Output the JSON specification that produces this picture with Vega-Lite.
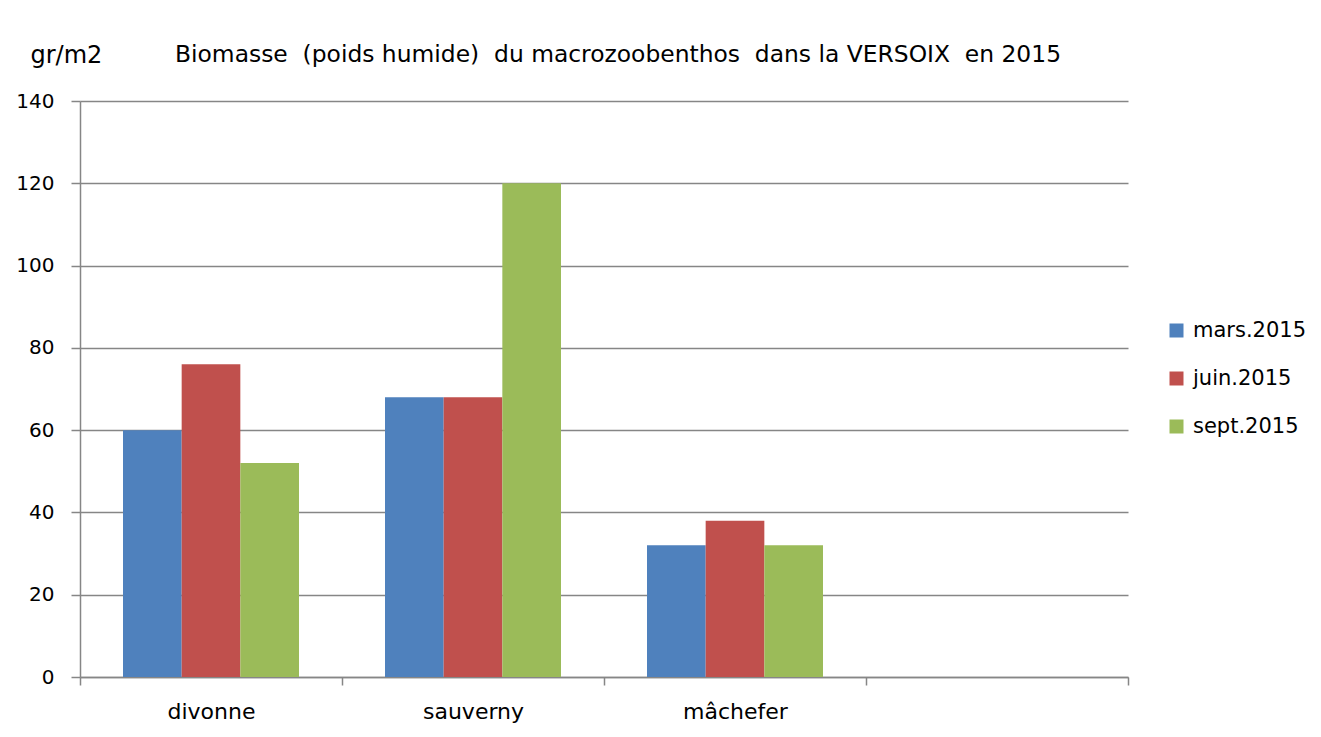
{
  "$schema": "https://vega.github.io/schema/vega-lite/v6.json",
  "width": 1048,
  "height": 576,
  "autosize": "none",
  "padding": {"left": 80, "top": 101, "right": 193, "bottom": 60},
  "background": "white",
  "title": {
    "text": "Biomasse\u00a0 (poids humide)\u00a0 du macrozoobenthos\u00a0 dans la VERSOIX\u00a0 en 2015",
    "anchor": "start",
    "frame": "group",
    "dx": 95,
    "offset": -42,
    "baseline": "alphabetic",
    "font": "DejaVu Sans",
    "fontSize": 23.4,
    "fontWeight": "normal",
    "color": "black"
  },
  "config": {
    "view": {"stroke": null},
    "font": "DejaVu Sans"
  },
  "data": {
    "values": [
      {"site": "divonne", "month": "mars.2015", "value": 60},
      {"site": "divonne", "month": "juin.2015", "value": 76},
      {"site": "divonne", "month": "sept.2015", "value": 52},
      {"site": "sauverny", "month": "mars.2015", "value": 68},
      {"site": "sauverny", "month": "juin.2015", "value": 68},
      {"site": "sauverny", "month": "sept.2015", "value": 120},
      {"site": "mâchefer", "month": "mars.2015", "value": 32},
      {"site": "mâchefer", "month": "juin.2015", "value": 38},
      {"site": "mâchefer", "month": "sept.2015", "value": 32}
    ]
  },
  "mark": {"type": "bar"},
  "encoding": {
    "x": {
      "field": "site",
      "type": "nominal",
      "scale": {"domain": ["divonne", "sauverny", "mâchefer", "_"], "paddingInner": 0, "paddingOuter": 0},
      "axis": {
        "title": null,
        "labelExpr": "datum.value == '_' ? '' : datum.value",
        "labelAngle": 0,
        "tickBand": "extent",
        "domainColor": "#868686",
        "domainWidth": 1.5,
        "tickColor": "#868686",
        "tickWidth": 1.5,
        "tickSize": 8,
        "labelFont": "DejaVu Sans",
        "labelFontSize": 22,
        "labelColor": "black",
        "labelPadding": 16,
        "grid": false
      }
    },
    "xOffset": {
      "field": "month",
      "type": "nominal",
      "sort": ["mars.2015", "juin.2015", "sept.2015"],
      "scale": {"paddingInner": 0, "paddingOuter": 0.733}
    },
    "y": {
      "field": "value",
      "type": "quantitative",
      "scale": {"domain": [0, 140], "nice": false},
      "axis": {
        "title": "gr/m2",
        "titleAngle": 0,
        "titleX": -50,
        "titleY": -46,
        "titleAlign": "left",
        "titleBaseline": "middle",
        "titleFont": "DejaVu Sans",
        "titleFontSize": 24,
        "titleFontWeight": "normal",
        "titleColor": "black",
        "values": [0, 20, 40, 60, 80, 100, 120, 140],
        "grid": true,
        "gridColor": "#868686",
        "gridWidth": 1.5,
        "domainColor": "#868686",
        "domainWidth": 1.5,
        "tickColor": "#868686",
        "tickWidth": 1.5,
        "tickSize": 9,
        "labelFont": "DejaVu Sans",
        "labelFontSize": 20,
        "labelColor": "black",
        "labelPadding": 17
      }
    },
    "color": {
      "field": "month",
      "type": "nominal",
      "scale": {
        "domain": ["mars.2015", "juin.2015", "sept.2015"],
        "range": ["#4F81BD", "#C0504D", "#9BBB59"]
      },
      "legend": {
        "title": null,
        "orient": "none",
        "legendX": 1086,
        "legendY": 219,
        "symbolType": "square",
        "symbolSize": 196,
        "symbolStrokeWidth": 0,
        "labelFont": "DejaVu Sans",
        "labelFontSize": 21,
        "labelColor": "black",
        "labelOffset": 6,
        "rowPadding": 26
      }
    }
  }
}
